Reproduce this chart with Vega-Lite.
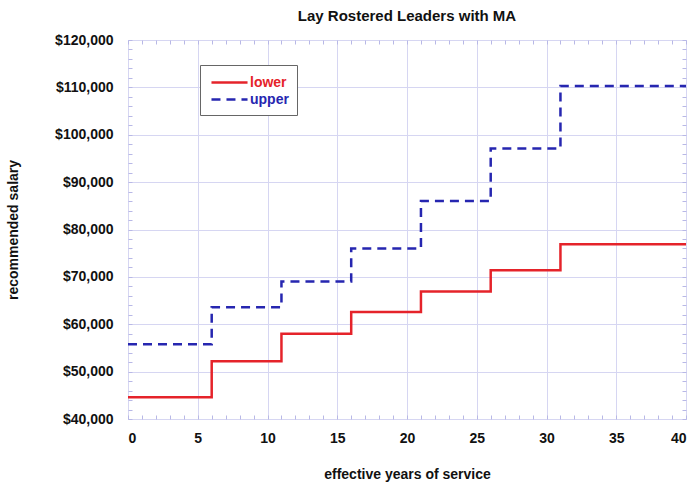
{
  "$schema": "https://vega.github.io/schema/vega-lite/v6.json",
  "autosize": {"type": "none"},
  "padding": {"left": 128, "top": 40, "right": 10, "bottom": 70},
  "width": 558,
  "height": 379,
  "background": "white",
  "title": {
    "text": "Lay Rostered Leaders with MA",
    "font": "Liberation Sans",
    "fontSize": 15,
    "fontWeight": "bold",
    "color": "#111111",
    "anchor": "middle",
    "offset": 9
  },
  "config": {
    "font": "Liberation Sans",
    "view": {"stroke": "#b8b8e6", "strokeWidth": 1},
    "axis": {
      "labelFont": "Liberation Sans",
      "labelFontSize": 14,
      "labelFontWeight": "bold",
      "labelColor": "#111111",
      "titleFont": "Liberation Sans",
      "titleFontSize": 14,
      "titleFontWeight": "bold",
      "titleColor": "#111111",
      "domain": false,
      "gridColor": "#d6d6f2",
      "gridWidth": 1
    }
  },
  "data": {
    "values": [
      {"years": 0, "salary": 44600, "series": "lower"},
      {"years": 6, "salary": 52200, "series": "lower"},
      {"years": 11, "salary": 58000, "series": "lower"},
      {"years": 16, "salary": 62600, "series": "lower"},
      {"years": 21, "salary": 66900, "series": "lower"},
      {"years": 26, "salary": 71400, "series": "lower"},
      {"years": 31, "salary": 76900, "series": "lower"},
      {"years": 40, "salary": 76900, "series": "lower"},
      {"years": 0, "salary": 55800, "series": "upper"},
      {"years": 6, "salary": 63600, "series": "upper"},
      {"years": 11, "salary": 69000, "series": "upper"},
      {"years": 16, "salary": 76000, "series": "upper"},
      {"years": 21, "salary": 86000, "series": "upper"},
      {"years": 26, "salary": 97100, "series": "upper"},
      {"years": 31, "salary": 110300, "series": "upper"},
      {"years": 40, "salary": 110300, "series": "upper"}
    ]
  },
  "resolve": {"axis": {"x": "independent", "y": "independent"}},
  "layer": [
    {
      "mark": {"type": "line", "strokeOpacity": 0},
      "encoding": {
        "x": {
          "field": "years", "type": "quantitative",
          "scale": {"domain": [0, 40], "nice": false, "zero": false},
          "axis": {"orient": "top", "title": null, "labels": false, "grid": false, "tickCount": 40, "tickSize": -4, "tickColor": "#b8b8e6"}
        },
        "y": {
          "field": "salary", "type": "quantitative",
          "scale": {"domain": [40000, 120000], "nice": false, "zero": false},
          "axis": {"orient": "right", "title": null, "labels": false, "grid": false, "tickCount": 40, "tickSize": -4, "tickColor": "#b8b8e6"}
        },
        "detail": {"field": "series"}
      }
    },
    {
      "mark": {"type": "line", "strokeOpacity": 0},
      "encoding": {
        "x": {
          "field": "years", "type": "quantitative",
          "axis": {"orient": "bottom", "title": null, "labels": false, "grid": false, "tickCount": 40, "tickSize": -4, "tickColor": "#b8b8e6"}
        },
        "y": {
          "field": "salary", "type": "quantitative",
          "axis": {"orient": "left", "title": null, "labels": false, "grid": false, "tickCount": 40, "tickSize": -4, "tickColor": "#b8b8e6"}
        },
        "detail": {"field": "series"}
      }
    },
    {
      "mark": {"type": "line", "interpolate": "step-after", "strokeWidth": 2.5},
      "encoding": {
        "x": {
          "field": "years", "type": "quantitative",
          "axis": {"orient": "bottom", "title": "effective years of service", "tickCount": 8, "ticks": false, "tickSize": 0, "labelPadding": 12, "titlePadding": 22, "grid": true}
        },
        "y": {
          "field": "salary", "type": "quantitative",
          "axis": {"orient": "left", "title": "recommended salary", "format": "$,.0f", "tickCount": 8, "ticks": false, "tickSize": 0, "labelPadding": 15, "titlePadding": 34, "grid": true}
        },
        "color": {
          "field": "series", "type": "nominal",
          "scale": {"domain": ["lower", "upper"], "range": ["#e5232a", "#2626b0"]},
          "legend": {
            "title": null,
            "orient": "none",
            "legendX": 72,
            "legendY": 25,
            "direction": "vertical",
            "symbolType": "M-2.28,0H2.28",
            "symbolSize": 250,
            "symbolStrokeWidth": 2.5,
            "symbolOffset": 12,
            "labelOffset": 11,
            "labelFont": "Liberation Sans",
            "labelFontSize": 14,
            "labelFontWeight": "bold",
            "labelColor": {"expr": "datum.label == 'lower' ? '#e5232a' : '#2626b0'"},
            "rowPadding": -6,
            "padding": 8,
            "strokeColor": "#666666",
            "fillColor": "white"
          }
        },
        "strokeDash": {
          "field": "series", "type": "nominal",
          "scale": {"domain": ["lower", "upper"], "range": [[1, 0], [9, 6]]},
          "legend": {
            "title": null,
            "orient": "none",
            "legendX": 72,
            "legendY": 25,
            "direction": "vertical",
            "symbolType": "M-2.28,0H2.28",
            "symbolSize": 250,
            "symbolStrokeWidth": 2.5,
            "symbolOffset": 12,
            "labelOffset": 11,
            "labelFont": "Liberation Sans",
            "labelFontSize": 14,
            "labelFontWeight": "bold",
            "labelColor": {"expr": "datum.label == 'lower' ? '#e5232a' : '#2626b0'"},
            "rowPadding": -6,
            "padding": 8,
            "strokeColor": "#666666",
            "fillColor": "white"
          }
        }
      }
    }
  ]
}
